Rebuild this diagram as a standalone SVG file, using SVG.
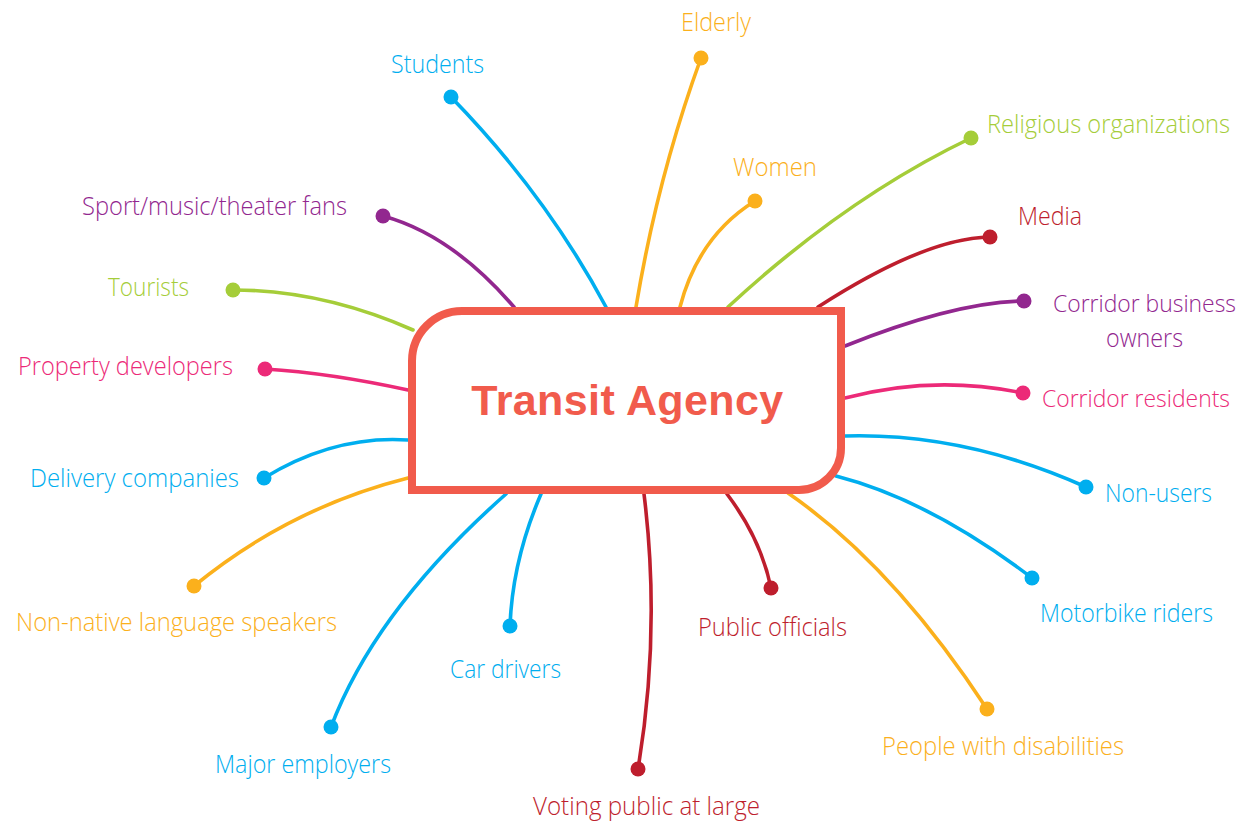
<svg xmlns="http://www.w3.org/2000/svg" width="1243" height="824" viewBox="0 0 1243 824">
<style>
.c{fill:none;stroke-width:3.6;stroke-linecap:round}
.lbl{font-family:"Open Sans","Noto Sans",sans-serif;font-size:25px;font-weight:300}
.sm{font-size:23px}
.end{text-anchor:end}
.blue{stroke:#00AEEF}.blueF{fill:#00AEEF}
.orange{stroke:#FBB01C}.orangeF{fill:#FBB01C}
.green{stroke:#A5CD39}.greenF{fill:#A5CD39}
.purple{stroke:#92278F}.purpleF{fill:#92278F}
.red{stroke:#BE1E2D}.redF{fill:#BE1E2D}
.pink{stroke:#EC2A78}.pinkF{fill:#EC2A78}
</style>
<rect width="1243" height="824" fill="#FFFFFF"/>
<g id="connectors">
<path class="c blue" d="M451,97 Q545.5,194 606,307"/>
<path class="c orange" d="M701,58 Q657.5,177.5 636,307"/>
<path class="c orange" d="M755,201 Q698.5,236 680,307"/>
<path class="c green" d="M971,138 Q846.5,197.5 728,307"/>
<path class="c red" d="M990,237 Q925,238 818,307"/>
<path class="c purple" d="M1024,301 Q955,302 845,346"/>
<path class="c pink" d="M1023,393 Q934,374.5 845,398"/>
<path class="c blue" d="M1086,487 Q964.5,432.5 845,436"/>
<path class="c blue" d="M1032,578 Q929.5,500 836,476"/>
<path class="c orange" d="M987,709 Q892.5,565 788,493"/>
<path class="c red" d="M771,588 Q761,539 727,494"/>
<path class="c red" d="M638,769 Q661,630.5 644,494"/>
<path class="c blue" d="M510,626 Q512.5,560 541,494"/>
<path class="c blue" d="M331,727 Q375.5,609.5 506,494"/>
<path class="c orange" d="M194,586 Q289,508 408,478"/>
<path class="c blue" d="M264,478 Q334,435 408,440"/>
<path class="c pink" d="M265,369 Q330,373 408,390"/>
<path class="c green" d="M233,290 Q322,290 413,330"/>
<path class="c purple" d="M383,216 Q451.5,234.5 514,307"/>
</g>
<g id="transit-agency">
<path d="M462,311 H841 V448 A42,42 0 0 1 799,490 H412 V361 A50,50 0 0 1 462,311 Z" fill="#FFFFFF" stroke="#F15B4C" stroke-width="8"/>
<text x="627.5" y="415" text-anchor="middle" font-family="'Liberation Sans',Arial,sans-serif" font-weight="bold" font-size="43" letter-spacing="0.4" fill="#F15B4C">Transit Agency</text>
</g>
<g id="students"><circle cx="451" cy="97" r="7.5" class="blueF"/><text class="lbl blueF" x="391" y="73" textLength="93" lengthAdjust="spacingAndGlyphs">Students</text></g>
<g id="elderly"><circle cx="701" cy="58" r="7.5" class="orangeF"/><text class="lbl orangeF" x="681" y="31" textLength="70" lengthAdjust="spacingAndGlyphs">Elderly</text></g>
<g id="women"><circle cx="755" cy="201" r="7.5" class="orangeF"/><text class="lbl orangeF" x="733" y="176" textLength="84" lengthAdjust="spacingAndGlyphs">Women</text></g>
<g id="religious"><circle cx="971" cy="138" r="7.5" class="greenF"/><text class="lbl greenF end" x="1230" y="133" textLength="243" lengthAdjust="spacingAndGlyphs">Religious organizations</text></g>
<g id="media"><circle cx="990" cy="237" r="7.5" class="redF"/><text class="lbl redF" x="1018" y="225" textLength="64" lengthAdjust="spacingAndGlyphs">Media</text></g>
<g id="corridor-business"><circle cx="1024" cy="301" r="7.5" class="purpleF"/><text class="lbl sm purpleF end" x="1236" y="312" textLength="183" lengthAdjust="spacingAndGlyphs">Corridor business</text><text class="lbl purpleF end" x="1183" y="347" textLength="77" lengthAdjust="spacingAndGlyphs">owners</text></g>
<g id="corridor-residents"><circle cx="1023" cy="393" r="7.5" class="pinkF"/><text class="lbl sm pinkF end" x="1230" y="407" textLength="188" lengthAdjust="spacingAndGlyphs">Corridor residents</text></g>
<g id="non-users"><circle cx="1086" cy="487" r="7.5" class="blueF"/><text class="lbl blueF" x="1105" y="502" textLength="107" lengthAdjust="spacingAndGlyphs">Non-users</text></g>
<g id="motorbike"><circle cx="1032" cy="578" r="7.5" class="blueF"/><text class="lbl blueF" x="1040" y="622" textLength="173" lengthAdjust="spacingAndGlyphs">Motorbike riders</text></g>
<g id="disabilities"><circle cx="987" cy="709" r="7.5" class="orangeF"/><text class="lbl orangeF" x="882" y="755" textLength="242" lengthAdjust="spacingAndGlyphs">People with disabilities</text></g>
<g id="public-officials"><circle cx="771" cy="588" r="7.5" class="redF"/><text class="lbl redF" x="698" y="636" textLength="149" lengthAdjust="spacingAndGlyphs">Public officials</text></g>
<g id="voting-public"><circle cx="638" cy="769" r="7.5" class="redF"/><text class="lbl redF" x="533" y="815" textLength="227" lengthAdjust="spacingAndGlyphs">Voting public at large</text></g>
<g id="car-drivers"><circle cx="510" cy="626" r="7.5" class="blueF"/><text class="lbl blueF" x="450" y="678" textLength="111" lengthAdjust="spacingAndGlyphs">Car drivers</text></g>
<g id="major-employers"><circle cx="331" cy="727" r="7.5" class="blueF"/><text class="lbl blueF" x="215" y="773" textLength="176" lengthAdjust="spacingAndGlyphs">Major employers</text></g>
<g id="non-native"><circle cx="194" cy="586" r="7.5" class="orangeF"/><text class="lbl orangeF" x="16" y="631" textLength="321" lengthAdjust="spacingAndGlyphs">Non-native language speakers</text></g>
<g id="delivery"><circle cx="264" cy="478" r="7.5" class="blueF"/><text class="lbl blueF" x="30" y="487" textLength="209" lengthAdjust="spacingAndGlyphs">Delivery companies</text></g>
<g id="property"><circle cx="265" cy="369" r="7.5" class="pinkF"/><text class="lbl pinkF" x="18" y="375" textLength="215" lengthAdjust="spacingAndGlyphs">Property developers</text></g>
<g id="tourists"><circle cx="233" cy="290" r="7.5" class="greenF"/><text class="lbl greenF" x="108" y="296" textLength="81" lengthAdjust="spacingAndGlyphs">Tourists</text></g>
<g id="sport-fans"><circle cx="383" cy="216" r="7.5" class="purpleF"/><text class="lbl purpleF" x="82" y="215" textLength="265" lengthAdjust="spacingAndGlyphs">Sport/music/theater fans</text></g>
</svg>
